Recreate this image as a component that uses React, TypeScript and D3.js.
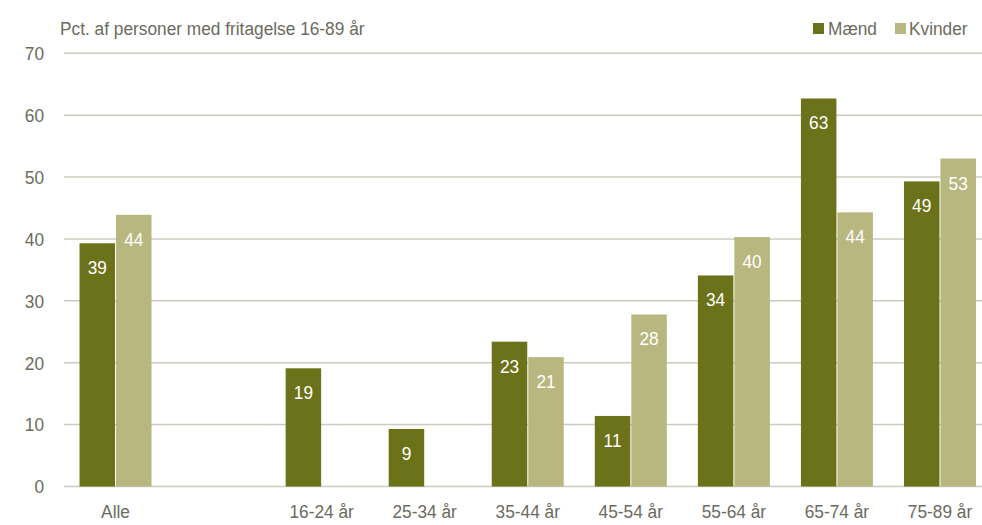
import React from "react";
import * as d3 from "d3";

const categories = ["Alle", "", "16-24 år", "25-34 år", "35-44 år", "45-54 år", "55-64 år", "65-74 år", "75-89 år"];
const maend: (number | null)[] = [39.3, null, 19.1, 9.3, 23.4, 11.4, 34.1, 62.7, 49.3];
const kvinder: (number | null)[] = [43.9, null, null, null, 20.9, 27.8, 40.3, 44.3, 53.0];
const maendLabels = ["39", "", "19", "9", "23", "11", "34", "63", "49"];
const kvinderLabels = ["44", "", "", "", "21", "28", "40", "44", "53"];
const yTicks = [0, 10, 20, 30, 40, 50, 60, 70];

const W = 982;
const H = 525;
const FONT = "'Liberation Sans', Arial, sans-serif";
const C_M = "#6c7219";
const C_K = "#b8b77f";
const TXT = "#6b6b5e";
const GRID = "#cbcbc0";
const SX = 0.91;

function T(props: { x: number; y: number; anchor?: string; fill?: string; size?: number; children: React.ReactNode }) {
  const { x, y, anchor = "start", fill = TXT, size = 19, children } = props;
  return (
    <g transform={`translate(${x},${y}) scale(${SX},1)`}>
      <text x={0} y={0} textAnchor={anchor} fontFamily={FONT} fontSize={size} fill={fill}>{children}</text>
    </g>
  );
}

export default function App() {
  const x = d3.scaleBand<string>().domain(categories.map((c, i) => String(i))).range([64, 991.5]).padding(0);
  const y = d3.scaleLinear().domain([0, 70]).range([486.5, 53.3]);
  const bw = 35.5;
  return (
    <svg width={W} height={H} style={{ position: "absolute", left: 0, top: 0 }}>
      <rect width={W} height={H} fill="#fff" />
      <T x={60} y={35}>Pct. af personer med fritagelse 16-89 år</T>
      {yTicks.map((t) => (
        <g key={t}>
          <line x1={64} x2={W} y1={y(t)} y2={y(t)} stroke={GRID} strokeWidth={1.5} />
          <T x={44} y={y(t) + 6.8} anchor="end">{t}</T>
        </g>
      ))}
      {categories.map((c, i) => {
        const cx = (x(String(i)) as number) + x.bandwidth() / 2;
        const m = maend[i];
        const k = kvinder[i];
        return (
          <g key={i}>
            {m != null && (
              <g>
                <rect x={cx - 36} y={y(m)} width={bw} height={y(0) - y(m)} fill={C_M} />
                <T x={cx - 36 + bw / 2} y={y(m) + 31} anchor="middle" fill="#fff">{maendLabels[i]}</T>
              </g>
            )}
            {k != null && (
              <g>
                <rect x={cx + 0.5} y={y(k)} width={bw} height={y(0) - y(k)} fill={C_K} />
                <T x={cx + 0.5 + bw / 2} y={y(k) + 31} anchor="middle" fill="#fff">{kvinderLabels[i]}</T>
              </g>
            )}
            <T x={cx} y={518} anchor="middle">{c}</T>
          </g>
        );
      })}
      <rect x={813} y={23} width={11} height={11} fill={C_M} />
      <T x={828} y={35}>Mænd</T>
      <rect x={895} y={23} width={11} height={11} fill={C_K} />
      <T x={909} y={35}>Kvinder</T>
    </svg>
  );
}
